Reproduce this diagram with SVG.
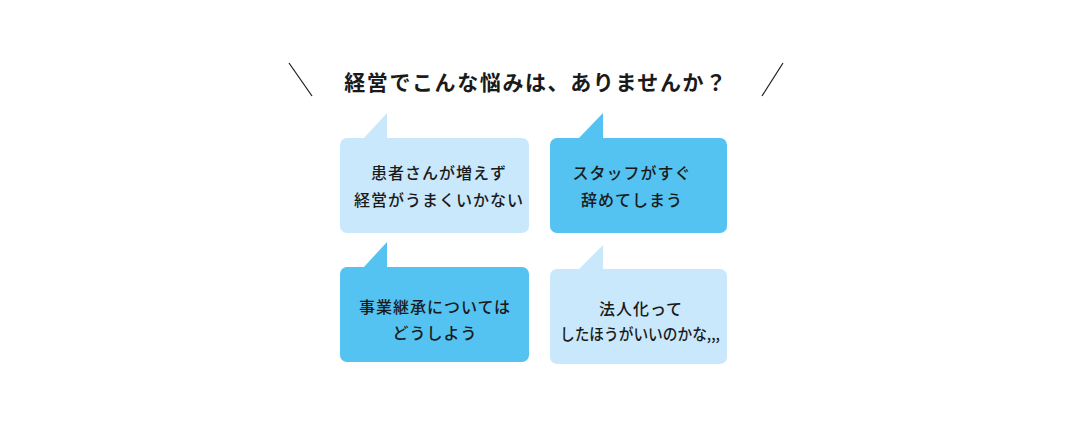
<svg xmlns="http://www.w3.org/2000/svg" width="1073" height="431" viewBox="0 0 1073 431">
  <defs>
    <style>
      .light { fill: #c9e8fb; }
      .dark { fill: #54c3f1; }
      .t { font-family: "Noto Sans CJK JP", "Noto Sans", sans-serif; font-size: 16px; font-weight: 500; fill: #1a1a1a; text-anchor: middle; letter-spacing: 1px; }
      .title { font-family: "Noto Sans CJK JP", "Noto Sans", sans-serif; font-size: 21px; font-weight: 700; fill: #1a1a1a; text-anchor: middle; letter-spacing: 1.6px; }
      .slash { stroke: #1a1a1a; stroke-width: 1.2; fill: none; }
    </style>
  </defs>
  <rect width="1073" height="431" fill="#ffffff"/>
  <g id="title">
    <line class="slash" x1="289" y1="63" x2="312" y2="96"/>
    <line class="slash" x1="783" y1="63" x2="762" y2="96"/>
    <text class="title" x="536" y="90">経営でこんな悩みは、ありませんか？</text>
  </g>
  <g id="node1">
    <path class="light" d="M363,139 L387,113 L387,139 Z"/>
    <rect class="light" x="340" y="138" width="189" height="95" rx="7"/>
    <text class="t" x="439" y="179">患者さんが増えず</text>
    <text class="t" x="439" y="206">経営がうまくいかない</text>
  </g>
  <g id="node2">
    <path class="dark" d="M578,139 L603,113 L603,139 Z"/>
    <rect class="dark" x="550" y="138" width="177" height="95" rx="7"/>
    <text class="t" x="632" y="179">スタッフがすぐ</text>
    <text class="t" x="632" y="206">辞めてしまう</text>
  </g>
  <g id="node3">
    <path class="dark" d="M363,268 L387,242 L387,268 Z"/>
    <rect class="dark" x="340" y="267" width="189" height="95" rx="7"/>
    <text class="t" x="435" y="313">事業継承については</text>
    <text class="t" x="435" y="339">どうしよう</text>
  </g>
  <g id="node4">
    <path class="light" d="M578,270 L603,245 L603,270 Z"/>
    <rect class="light" x="550" y="269" width="177" height="95" rx="7"/>
    <text class="t" x="641" y="315">法人化って</text>
    <text class="t" x="640" y="340" textLength="160" lengthAdjust="spacingAndGlyphs" style="letter-spacing:0">したほうがいいのかな,,,</text>
  </g>
  <g id="connectors"/>
</svg>
